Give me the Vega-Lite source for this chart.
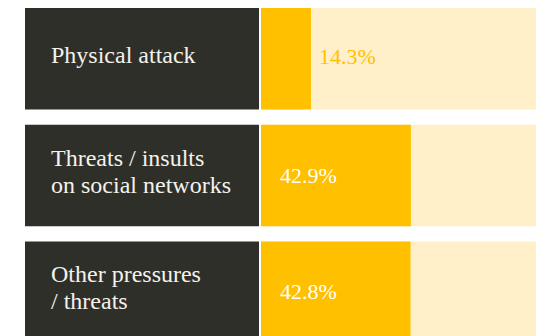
{
  "$schema": "https://vega.github.io/schema/vega-lite/v6.json",
  "padding": {"top": 8, "left": 25, "right": 0, "bottom": 0},
  "background": "white",
  "data": {"values": [
    {"category": "Physical attack", "label": ["Physical attack"], "value": 14.3, "pct": "14.3%"},
    {"category": "Threats / insults on social networks", "label": ["Threats / insults", "on social networks"], "value": 42.9, "pct": "42.9%"},
    {"category": "Other pressures / threats", "label": ["Other pressures", "/ threats"], "value": 42.8, "pct": "42.8%"}
  ]},
  "spacing": 2,
  "config": {"view": {"stroke": null}},
  "hconcat": [
    {
      "width": 234,
      "height": 335,
      "encoding": {"y": {"field": "category", "type": "nominal", "sort": null, "axis": null, "scale": {"paddingInner": 0.132, "paddingOuter": 0}}},
      "layer": [
        {"mark": {"type": "bar", "color": "#2f2f29"},
         "encoding": {"x": {"value": 0}, "x2": {"value": "width"}}},
        {"transform": [{"filter": "length(datum.label) == 1"}],
         "mark": {"type": "text", "align": "left", "baseline": "middle", "font": "'Liberation Serif', serif", "fontSize": 24, "lineHeight": 27, "color": "#f4f2ec", "dx": 26, "dy": -3},
         "encoding": {"x": {"value": 0}, "text": {"field": "label"}}},
        {"transform": [{"filter": "length(datum.label) > 1"}],
         "mark": {"type": "text", "align": "left", "baseline": "middle", "font": "'Liberation Serif', serif", "fontSize": 24, "lineHeight": 27, "color": "#f4f2ec", "dx": 26, "dy": -17},
         "encoding": {"x": {"value": 0}, "text": {"field": "label"}}}
      ]
    },
    {
      "width": 290,
      "height": 335,
      "encoding": {"y": {"field": "category", "type": "nominal", "sort": null, "axis": null, "scale": {"paddingInner": 0.132, "paddingOuter": 0}}},
      "layer": [
        {"mark": {"type": "bar", "color": "#fff0c9"},
         "encoding": {"x": {"value": 0}, "x2": {"value": "width"}}},
        {"mark": {"type": "bar", "color": "#ffc000"},
         "encoding": {"x": {"field": "value", "type": "quantitative", "scale": {"domain": [0, 83], "nice": false, "zero": true}, "axis": null}}},
        {"transform": [{"filter": "datum.value < 20"}],
         "mark": {"type": "text", "align": "left", "baseline": "middle", "font": "'Liberation Serif', serif", "fontSize": 22, "color": "#ffc000", "dx": 8, "dy": -2},
         "encoding": {"x": {"field": "value", "type": "quantitative"}, "text": {"field": "pct"}}},
        {"transform": [{"filter": "datum.value >= 20"}],
         "mark": {"type": "text", "align": "left", "baseline": "middle", "font": "'Liberation Serif', serif", "fontSize": 22, "color": "#ffffff", "dx": 19},
         "encoding": {"x": {"datum": 0, "type": "quantitative"}, "text": {"field": "pct"}}}
      ]
    }
  ]
}
